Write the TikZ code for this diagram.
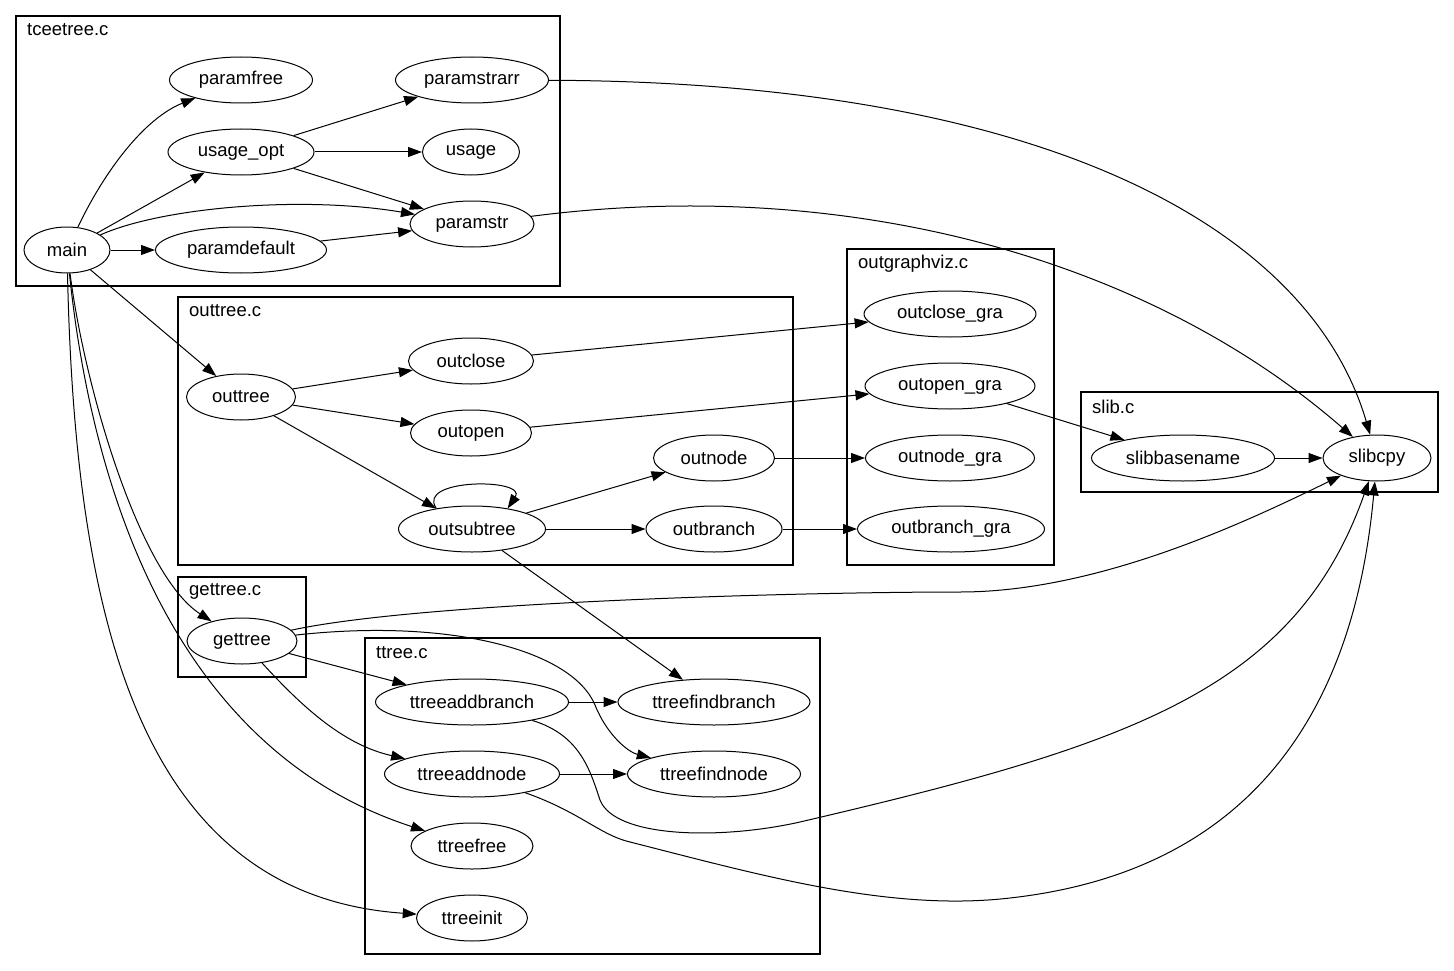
\documentclass[tikz,border=0pt]{standalone}
\usepackage{fontspec}
\setmainfont{Liberation Sans}
\usetikzlibrary{shapes.geometric,arrows.meta}
\begin{document}
\begin{tikzpicture}[x=1pt,y=-1pt,
  fn/.style={ellipse,draw,line width=1pt,inner sep=0pt,minimum height=46pt,font=\fontsize{18.5}{22}\selectfont},
  cl/.style={draw,line width=1.1pt},
  cllabel/.style={anchor=west,inner sep=0pt,font=\fontsize{18.5}{22}\selectfont},
  e/.style={line width=1pt,-{Triangle[length=14pt,width=10pt]}},
]
\useasboundingbox[fill=white] (0,0) rectangle (1454,971);
% clusters
\draw[cl] (16,16) rectangle (560,286);
\node[cllabel] (l1) at (27,30) {tceetree.c};
\draw[cl] (178,297) rectangle (793,565);
\node[cllabel] (l2) at (189,311) {outtree.c};
\draw[cl] (847,249) rectangle (1054,565);
\node[cllabel] (l3) at (858,264) {outgraphviz.c};
\draw[cl] (1081,392) rectangle (1438,492);
\node[cllabel] (l4) at (1092,407) {slib.c};
\draw[cl] (178,577) rectangle (306,677);
\node[cllabel] (l5) at (189,591) {gettree.c};
\draw[cl] (365,638) rectangle (820,954);
\node[cllabel] (l6) at (376,653) {ttree.c};
% nodes
\node[fn,minimum width=86pt] (main) at (67,250) {main};
\node[fn,minimum width=143pt] (paramfree) at (241,80) {paramfree};
\node[fn,minimum width=153pt] (paramstrarr) at (472,80) {paramstrarr};
\node[fn,minimum width=146pt] (usageopt) at (241,152) {usage\_opt};
\node[fn,minimum width=97pt] (usage) at (471,152) {usage};
\node[fn,minimum width=124pt] (paramstr) at (472,224) {paramstr};
\node[fn,minimum width=171pt] (paramdefault) at (241,250) {paramdefault};
\node[fn,minimum width=109pt] (outtree) at (241,397) {outtree};
\node[fn,minimum width=125pt] (outclose) at (471,361) {outclose};
\node[fn,minimum width=121pt] (outopen) at (471,433) {outopen};
\node[fn,minimum width=121pt] (outnode) at (714,458) {outnode};
\node[fn,minimum width=147pt] (outsubtree) at (472,529) {outsubtree};
\node[fn,minimum width=136pt] (outbranch) at (714,529) {outbranch};
\node[fn,minimum width=172pt] (outclosegra) at (950,314) {outclose\_gra};
\node[fn,minimum width=170pt] (outopengra) at (950,386) {outopen\_gra};
\node[fn,minimum width=169pt] (outnodegra) at (950,458) {outnode\_gra};
\node[fn,minimum width=187pt] (outbranchgra) at (951,529) {outbranch\_gra};
\node[fn,minimum width=183pt] (slibbasename) at (1183,458) {slibbasename};
\node[fn,minimum width=108pt] (slibcpy) at (1377,458) {slibcpy};
\node[fn,minimum width=110pt] (gettree) at (242,641) {gettree};
\node[fn,minimum width=193pt] (ttreeaddbranch) at (472,702) {ttreeaddbranch};
\node[fn,minimum width=192pt] (ttreefindbranch) at (714,702) {ttreefindbranch};
\node[fn,minimum width=175pt] (ttreeaddnode) at (472,774) {ttreeaddnode};
\node[fn,minimum width=173pt] (ttreefindnode) at (714,774) {ttreefindnode};
\node[fn,minimum width=122pt] (ttreefree) at (472,846) {ttreefree};
\node[fn,minimum width=111pt] (ttreeinit) at (472,918) {ttreeinit};
% edges in tceetree.c
\draw[e] (main) .. controls (105,170) and (145,118) .. (paramfree);
\draw[e] (main) -- (usageopt);
\draw[e] (main) .. controls (160,208) and (300,195) .. (paramstr);
\draw[e] (main) -- (paramdefault);
\draw[e] (usageopt) -- (paramstrarr);
\draw[e] (usageopt) -- (usage);
\draw[e] (usageopt) -- (paramstr);
\draw[e] (paramdefault) -- (paramstr);
\draw[e] (paramstrarr) .. controls (1050,82) and (1310,230) .. (slibcpy);
\draw[e] (paramstr) .. controls (850,175) and (1150,260) .. (slibcpy);
% main to others
\draw[e] (main) -- (outtree);
\draw[e] (main) .. controls (85,390) and (140,575) .. (gettree);
\draw[e] (main) .. controls (95,520) and (190,755) .. (ttreefree);
\draw[e] (main) .. controls (75,620) and (140,895) .. (ttreeinit);
% outtree.c
\draw[e] (outtree) -- (outclose);
\draw[e] (outtree) -- (outopen);
\draw[e] (outtree) -- (outsubtree);
\draw[e] (outsubtree.150) .. controls (415,478) and (528,478) .. (outsubtree.30);
\draw[e] (outsubtree) -- (outnode);
\draw[e] (outsubtree) -- (outbranch);
\draw[e] (outsubtree) -- (ttreefindbranch);
\draw[e] (outclose) -- (outclosegra);
\draw[e] (outopen) -- (outopengra);
\draw[e] (outnode) -- (outnodegra);
\draw[e] (outbranch) -- (outbranchgra);
\draw[e] (outopengra) -- (slibbasename);
\draw[e] (slibbasename) -- (slibcpy);
% gettree
\draw[e] (gettree) .. controls (420,602) and (800,592) .. (960,592) .. controls (1100,592) and (1250,520) .. (slibcpy);
\draw[e] (gettree) .. controls (450,618) and (572,650) .. (595,705) .. controls (607,735) and (628,752) .. (ttreefindnode);
\draw[e] (gettree) -- (ttreeaddbranch);
\draw[e] (gettree) .. controls (305,710) and (345,745) .. (ttreeaddnode);
% ttree.c
\draw[e] (ttreeaddbranch) -- (ttreefindbranch);
\draw[e] (ttreeaddnode) -- (ttreefindnode);
\draw[e] (ttreeaddbranch) .. controls (580,735) and (590,770) .. (600,800) .. controls (615,838) and (720,840) .. (800,822) .. controls (1130,745) and (1295,690) .. (slibcpy);
\draw[e] (ttreeaddnode) .. controls (580,812) and (600,835) .. (630,842) .. controls (760,875) and (890,912) .. (1010,898) .. controls (1260,870) and (1355,700) .. (slibcpy);
\end{tikzpicture}
\end{document}
